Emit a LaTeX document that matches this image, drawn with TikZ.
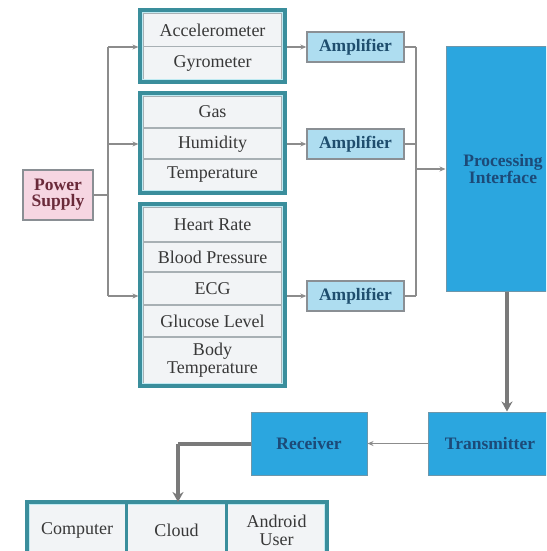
\documentclass[tikz,border=0pt]{standalone}
\usepackage{fontspec}
\setmainfont{Liberation Serif}
\usetikzlibrary{arrows.meta,calc}

\definecolor{wire}{HTML}{8C8C8C}
\definecolor{thickwire}{HTML}{7A7A7A}
\definecolor{grpedge}{HTML}{3A8E9C}
\definecolor{grpinner}{HTML}{BFEAF2}
\definecolor{rowfill}{HTML}{F2F4F6}
\definecolor{rowline}{HTML}{A8B0B4}
\definecolor{ampfill}{HTML}{AEDDF0}
\definecolor{amptext}{HTML}{1F4E6E}
\definecolor{psfill}{HTML}{F6D6E2}
\definecolor{pstext}{HTML}{6A2A3A}
\definecolor{bluebox}{HTML}{2BA6DF}
\definecolor{bluetext}{HTML}{1C4A78}
\definecolor{bordergray}{HTML}{8A8F94}

\tikzset{
  x=1pt, y=-1pt,
  every node/.style={font=\fontsize{18}{20}\selectfont, inner sep=0pt, align=center},
  wireline/.style={draw=wire, line width=1.3pt},
  wirearrow/.style={wireline, -{Stealth[length=6pt,width=5pt]}},
  heavyarrow/.style={draw=thickwire, line width=4pt, -{Stealth[length=10pt,width=11pt]}},
  grpframe/.style={draw=grpedge, line width=3.2pt, fill=rowfill},
  rowcell/.style={draw=rowline, line width=1.4pt, fill=rowfill, text=black!78},
  boldtext/.style={font=\fontsize{17.5}{19}\selectfont\bfseries},
  ampbox/.style={draw=bordergray, line width=1.4pt, fill=ampfill, text=amptext,
    boldtext, minimum width=97pt, minimum height=30pt},
  psbox/.style={draw=bordergray, line width=1.4pt, fill=psfill, text=pstext,
    boldtext, minimum width=70pt, minimum height=50pt},
  bluenode/.style={draw=bordergray!70!bluebox, line width=1pt, fill=bluebox, text=bluetext,
    boldtext},
}

\begin{document}
\begin{tikzpicture}
\useasboundingbox (0,0) rectangle (546,551);
\begin{scope}
\clip (0,0) rectangle (546,551);

% ---------- sensor group frames ----------
\path[grpframe] (140,10) rectangle (285,82);
\path[grpframe] (140,93) rectangle (285,193);
\path[grpframe] (140,204) rectangle (285,386);

% rows of the first group
\node[rowcell, minimum width=139pt, minimum height=33pt] (acc) at (212.5,30) {Accelerometer};
\node[rowcell, minimum width=139pt, minimum height=33pt] (gyr) at (212.5,63) {Gyrometer};
% rows of the second group
\node[rowcell, minimum width=139pt, minimum height=32pt] (gas) at (212.5,112) {Gas};
\node[rowcell, minimum width=139pt, minimum height=32pt] (hum) at (212.5,144) {Humidity};
\node[rowcell, minimum width=139pt, minimum height=32pt] (tmp) at (212.5,175) {Temperature};
% rows of the third group
\node[rowcell, minimum width=139pt, minimum height=35pt] (hr)  at (212.5,224.5) {Heart Rate};
\node[rowcell, minimum width=139pt, minimum height=30pt] (bp)  at (212.5,257) {Blood Pressure};
\node[rowcell, minimum width=139pt, minimum height=33pt] (ecg) at (212.5,288.5) {ECG};
\node[rowcell, minimum width=139pt, minimum height=32pt] (glu) at (212.5,321) {Glucose Level};
\node[rowcell, minimum width=139pt, minimum height=47pt] (bt)  at (212.5,360.5) {Body\\[-2pt]Temperature};

% redraw the frames on top of the rows
\draw[draw=grpinner, line width=1.6pt] (142.5,12.5) rectangle (282.5,79.5);
\draw[draw=grpinner, line width=1.6pt] (142.5,95.5) rectangle (282.5,190.5);
\draw[draw=grpinner, line width=1.6pt] (142.5,206.5) rectangle (282.5,383.5);
\node[draw=grpedge, line width=3.2pt, minimum width=145pt, minimum height=72pt] (g1) at (212.5,46) {};
\node[draw=grpedge, line width=3.2pt, minimum width=145pt, minimum height=100pt] (g2) at (212.5,143) {};
\node[draw=grpedge, line width=3.2pt, minimum width=145pt, minimum height=182pt] (g3) at (212.5,295) {};

% ---------- power supply ----------
\node[psbox] (ps) at (58,195) {Power\\[-3pt]Supply};
\coordinate (busL) at (108,195);
\draw[wireline] (ps.east) -- (busL);
\draw[wireline] (108,47) -- (108,296);
\draw[wirearrow] (108,47) -- (g1.west |- 0,47);
\draw[wirearrow] (108,144) -- (g2.west |- 0,144);
\draw[wirearrow] (108,296) -- (g3.west |- 0,296);

% ---------- amplifiers ----------
\node[ampbox] (a1) at (355.5,47) {Amplifier};
\node[ampbox] (a2) at (355.5,144) {Amplifier};
\node[ampbox] (a3) at (355.5,296) {Amplifier};
\draw[wirearrow] (g1.east |- a1) -- (a1.west);
\draw[wirearrow] (g2.east |- a2) -- (a2.west);
\draw[wirearrow] (g3.east |- a3) -- (a3.west);

% collector towards the processing interface
\coordinate (busR) at (416,169);
\draw[wireline] (a1.east) -- (416,47);
\draw[wireline] (a2.east) -- (416,144);
\draw[wireline] (a3.east) -- (416,296);
\draw[wireline] (416,47) -- (416,296);

% ---------- processing and radio link ----------
\node[bluenode, minimum width=114pt, minimum height=244pt] (proc) at (503,169) {Processing\\[-2pt]Interface};
\draw[wirearrow] (busR) -- (proc.west |- busR);

\node[bluenode, minimum width=124pt, minimum height=63pt] (tx) at (490,443.5) {Transmitter};
\node[bluenode, minimum width=116pt, minimum height=63pt] (rx) at (309,443.5) {Receiver};
\draw[heavyarrow] (proc.south -| 507,0) -- (tx.north -| 507,0);
\draw[wirearrow] (tx.west) -- (rx.east);

% ---------- outputs ----------
\path[grpframe] (27,502) rectangle (327,560);
\node[rowcell, minimum width=99pt, minimum height=56pt] (pc) at (77,530) {Computer};
\node[rowcell, minimum width=100pt, minimum height=56pt] (cl) at (176.5,530) {Cloud};
\node[rowcell, minimum width=100pt, minimum height=56pt] (au) at (276.5,530) {Android\\[-2pt]User};
\draw[draw=grpinner, line width=1.6pt] (29.5,504.5) rectangle (324.5,560);
\draw[draw=grpedge, line width=3pt] (126.5,502) -- (126.5,560) (226.5,502) -- (226.5,560);
\draw[draw=grpedge, line width=3.2pt] (27,502) rectangle (327,560);
\coordinate (drop) at (178,443.5);
\draw[draw=thickwire, line width=4pt] (rx.west) -- (drop);
\draw[heavyarrow] (drop) -- (178,502);

\end{scope}
\end{tikzpicture}
\end{document}
